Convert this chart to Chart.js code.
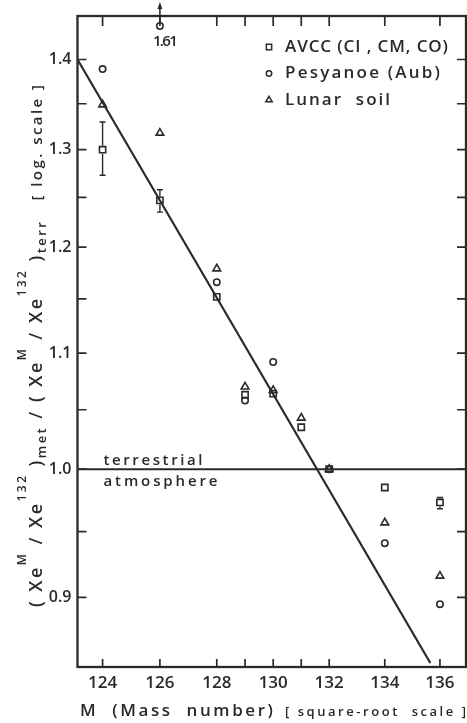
<!DOCTYPE html>
<html><head><meta charset="utf-8">
<script src="https://cdn.jsdelivr.net/npm/chart.js@4.4.0/dist/chart.umd.min.js"></script>
<style>
html,body{margin:0;padding:0;background:#fff;overflow:hidden;width:467px;height:723px}
#wrap{position:relative;width:472px;height:723px}
canvas{display:block}
</style></head>
<body><div id="wrap"><canvas id="c" width="472" height="723"></canvas></div>
<script>
// ---------------- data ----------------
const massNumbers = [124, 126, 128, 129, 130, 131, 132, 134, 136];
const avcc        = [1.300, 1.247, 1.152, 1.063, 1.064, 1.035, 1.000, 0.985, 0.973];
const avccErrLow  = [1.273, 1.235, null, null, null, null, null, null, 0.968];
const avccErrHigh = [1.330, 1.258, null, null, null, null, null, null, 0.977];
const pesyanoe    = [1.389, 1.61, 1.166, 1.058, 1.092, null, 1.000, 0.941, 0.895];
const lunarSoil   = [1.349, 1.318, 1.179, 1.070, 1.067, 1.043, 1.000, 0.957, 0.916];
const fitMass  = [123.13, 135.65];
const fitRatio = [1.400, 0.8528];
const seriesNames = ['AVCC (CI , CM, CO)', 'Pesyanoe (Aub)', 'Lunar  soil'];
const xTickMasses = [124, 126, 128, 129, 130, 131, 132, 134, 136];
const xTickLabels = ['124', '126', '128', '', '130', '', '132', '134', '136'];
const yTickValues = [0.9, 0.95, 1.0, 1.05, 1.1, 1.15, 1.2, 1.25, 1.3, 1.35, 1.4];
const yTickLabels = ['0.9', '', '1.0', '', '1.1', '', '1.2', '', '1.3', '', '1.4'];
const xRange = [123.13, 136.95];
const yRange = [0.8528, 1.4509];
const referenceLevel = 1.0;
const referenceText = ['terrestrial', 'atmosphere'];
const xTitle = ['M  (Mass  number)', '[ square-root  scale ]'];
const yTitle = [
  ['( Xe', 'n'], ['M', 'sup'], [' / Xe', 'n'], ['132', 'sup'], [' )', 'n'], ['met', 'sub'],
  [' / ( Xe', 'n'], ['M', 'sup'], [' / Xe', 'n'], ['132', 'sup'], [' )', 'n'], ['terr', 'sub'],
  ['   [ log. scale ]', 'small']
];

// ---------------- styles ----------------
const ink = '#2a2a2a';
const FAM = '"Open Sans", "Liberation Sans", "DejaVu Sans", sans-serif';
const W = '600 ';
const markerStyles = [
  {pointStyle: 'rect', radius: 4.4},
  {pointStyle: 'circle', radius: 3.2},
  {pointStyle: 'triangle', radius: 4.4}
];

// ---------------- square-root scale ----------------
class SqrtScale extends Chart.LinearScale {
  getPixelForValue(v) {
    const a = Math.sqrt(this.min), b = Math.sqrt(this.max);
    return this.getPixelForDecimal((Math.sqrt(v) - a) / (b - a));
  }
  getValueForPixel(p) {
    const a = Math.sqrt(this.min), b = Math.sqrt(this.max);
    const s = a + this.getDecimalForPixel(p) * (b - a);
    return s * s;
  }
}
SqrtScale.id = 'sqrt';
SqrtScale.defaults = Chart.LinearScale.defaults;
Chart.register(SqrtScale);

// ---------------- helpers ----------------
function pts(arr) {
  return massNumbers.map((m, i) => ({x: m, y: arr[i]}))
    .filter(p => p.y != null && p.y <= yRange[1]);
}
function charsWidth(ctx, t) { let w = 0; for (const ch of t) w += ctx.measureText(ch).width; return w; }
function spacingFor(ctx, t, target) { const n = [...t].length - 1; return n > 0 ? (target - charsWidth(ctx, t)) / n : 0; }
function drawSpaced(ctx, t, x, y, sp) {
  for (const ch of t) { ctx.fillText(ch, x, y); x += ctx.measureText(ch).width + sp; }
  return x;
}
function drawMarker(ctx, style, r, x, y) {
  ctx.beginPath();
  if (style === 'circle') ctx.arc(x, y, r, 0, Math.PI * 2);
  else if (style === 'rect') { const s = r * Math.SQRT1_2; ctx.rect(x - s, y - s, 2 * s, 2 * s); }
  else if (style === 'triangle') {
    let a = 0;
    ctx.moveTo(x + Math.sin(a) * r, y - Math.cos(a) * r); a += 2 * Math.PI / 3;
    ctx.lineTo(x + Math.sin(a) * r, y - Math.cos(a) * r); a += 2 * Math.PI / 3;
    ctx.lineTo(x + Math.sin(a) * r, y - Math.cos(a) * r); ctx.closePath();
  }
  ctx.stroke();
}

// ---------------- decorations plugin ----------------
const decor = {
  id: 'decor',
  afterDraw(chart) {
    const {ctx, chartArea: ca, scales} = chart;
    const x = scales.x, y = scales.y;
    ctx.save();
    ctx.strokeStyle = ink; ctx.fillStyle = ink;

    // inward tick marks on all four sides
    ctx.lineWidth = 1.7;
    ctx.beginPath();
    xTickMasses.forEach(m => {
      const px = x.getPixelForValue(m);
      ctx.moveTo(px, ca.bottom); ctx.lineTo(px, ca.bottom - 8);
      ctx.moveTo(px, ca.top); ctx.lineTo(px, ca.top + 10);
    });
    yTickValues.forEach(v => {
      const py = y.getPixelForValue(v);
      ctx.moveTo(ca.left, py); ctx.lineTo(ca.left + 9, py);
      ctx.moveTo(ca.right, py); ctx.lineTo(ca.right - 9, py);
    });
    ctx.stroke();

    // frame
    ctx.lineWidth = 2.3;
    ctx.strokeRect(ca.left, ca.top, ca.right - ca.left, ca.bottom - ca.top);

    // reference level (terrestrial atmosphere)
    const ry = y.getPixelForValue(referenceLevel);
    ctx.lineWidth = 2;
    ctx.beginPath(); ctx.moveTo(ca.left, ry); ctx.lineTo(ca.right, ry); ctx.stroke();
    ctx.font = W + '15px ' + FAM; ctx.textBaseline = 'alphabetic'; ctx.textAlign = 'left';
    drawSpaced(ctx, referenceText[0], ca.left + 26, ry - 4, spacingFor(ctx, referenceText[0], 99));
    drawSpaced(ctx, referenceText[1], ca.left + 26, ry + 17, spacingFor(ctx, referenceText[1], 114));

    // error bars for AVCC
    ctx.lineWidth = 1.4;
    massNumbers.forEach((m, i) => {
      if (avccErrLow[i] == null) return;
      const px = x.getPixelForValue(m);
      const y1 = y.getPixelForValue(avccErrLow[i]), y2 = y.getPixelForValue(avccErrHigh[i]);
      const yc = y.getPixelForValue(avcc[i]);
      ctx.beginPath();
      ctx.moveTo(px, y2); ctx.lineTo(px, yc - 4);
      ctx.moveTo(px, yc + 4); ctx.lineTo(px, y1);
      ctx.moveTo(px - 3, y1); ctx.lineTo(px + 3, y1);
      ctx.moveTo(px - 3, y2); ctx.lineTo(px + 3, y2);
      ctx.stroke();
    });

    // off-scale points (value above axis max): marker at top with arrow and value
    ctx.lineWidth = 1.6;
    massNumbers.forEach((m, i) => {
      const v = pesyanoe[i];
      if (v == null || v <= yRange[1]) return;
      const px = x.getPixelForValue(m), py = ca.top + 10;
      drawMarker(ctx, markerStyles[1].pointStyle, markerStyles[1].radius, px, py);
      ctx.beginPath(); ctx.moveTo(px, py - 4); ctx.lineTo(px, ca.top - 9); ctx.stroke();
      ctx.beginPath(); ctx.moveTo(px, ca.top - 14); ctx.lineTo(px - 2.5, ca.top - 7); ctx.lineTo(px + 2.5, ca.top - 7); ctx.closePath(); ctx.fill();
      ctx.font = W + '15px ' + FAM; ctx.textAlign = 'left';
      const t = v.toFixed(2);
      drawSpaced(ctx, t, px - 7, py + 20, spacingFor(ctx, t, 25));
    });

    // legend
    const legendX = 269, legendTextX = 285, legendY = 47, rowH = 26.5;
    const legendW = [163, 155, 105];
    ctx.font = W + '17px ' + FAM; ctx.textBaseline = 'middle';
    seriesNames.forEach((name, i) => {
      const yy = legendY + i * rowH;
      ctx.lineWidth = 1.5;
      drawMarker(ctx, markerStyles[i].pointStyle, markerStyles[i].radius * 0.85, legendX, yy);
      drawSpaced(ctx, name, legendTextX, yy, spacingFor(ctx, name, legendW[i]));
    });

    // x-axis title
    ctx.textBaseline = 'alphabetic';
    ctx.font = W + '17px ' + FAM;
    drawSpaced(ctx, xTitle[0], 80, 716, spacingFor(ctx, xTitle[0], 193));
    ctx.font = W + '13px ' + FAM;
    drawSpaced(ctx, xTitle[1], 285, 716, spacingFor(ctx, xTitle[1], 181));

    // y-axis title (rotated, with super/subscripts)
    const fonts = {n: '18px ', sup: '12px ', sub: '13px ', small: '15px '};
    const dys = {n: 0, sup: -16, sub: 4, small: 0};
    let base = 0, nch = 0;
    yTitle.forEach(([t, k]) => { ctx.font = W + fonts[k] + FAM; base += charsWidth(ctx, t); nch += [...t].length; });
    const span = 522, sp = (span - base) / (nch - 1);
    ctx.translate(42, 607); ctx.rotate(-Math.PI / 2);
    let cx = 0;
    yTitle.forEach(([t, k]) => { ctx.font = W + fonts[k] + FAM; cx = drawSpaced(ctx, t, cx, dys[k], sp); });
    ctx.restore();
  }
};

// ---------------- chart ----------------
const markerDs = (label, data, i) => ({
  label, data: pts(data), type: 'scatter',
  pointStyle: markerStyles[i].pointStyle, pointRadius: markerStyles[i].radius,
  pointBorderWidth: 1.6, borderColor: ink, pointBorderColor: ink,
  backgroundColor: 'rgba(0,0,0,0)', pointBackgroundColor: 'rgba(0,0,0,0)'
});

new Chart(document.getElementById('c'), {
  type: 'scatter',
  data: {
    datasets: [
      {label: 'fit', type: 'line', data: fitMass.map((m, i) => ({x: m, y: fitRatio[i]})),
       borderColor: ink, borderWidth: 2.2, pointRadius: 0, showLine: true, fill: false, tension: 0},
      markerDs(seriesNames[0], avcc, 0),
      markerDs(seriesNames[1], pesyanoe, 1),
      markerDs(seriesNames[2], lunarSoil, 2)
    ]
  },
  options: {
    responsive: false, animation: false, devicePixelRatio: 1,
    layout: {padding: {left: 0, right: 3, top: 16, bottom: 0}},
    plugins: {legend: {display: false}, tooltip: {enabled: false}, title: {display: false}},
    scales: {
      x: {
        type: 'sqrt', min: xRange[0], max: xRange[1],
        grid: {display: false, drawTicks: false}, border: {display: false},
        afterBuildTicks: s => { s.ticks = xTickMasses.map(v => ({value: v})); },
        afterFit: s => { s.height = 56; s.paddingLeft = 0; s.paddingRight = 0; },
        ticks: {autoSkip: false, maxRotation: 0, minRotation: 0, padding: 6, color: ink,
                font: {family: FAM, size: 17, weight: '600'},
                callback: v => { const i = xTickMasses.indexOf(v); return i >= 0 ? xTickLabels[i] : ''; }}
      },
      y: {
        type: 'logarithmic', min: yRange[0], max: yRange[1],
        grid: {display: false, drawTicks: false}, border: {display: false},
        afterBuildTicks: s => { s.ticks = yTickValues.map(v => ({value: v})); },
        afterFit: s => { s.width = 77.5; s.paddingTop = 0; s.paddingBottom = 0; },
        ticks: {autoSkip: false, padding: 6, color: ink, font: {family: FAM, size: 16, weight: '600'},
                callback: v => { const i = yTickValues.findIndex(t => Math.abs(t - v) < 1e-9); return i >= 0 ? yTickLabels[i] : ''; }}
      }
    }
  },
  plugins: [decor]
});
</script>
</body></html>
